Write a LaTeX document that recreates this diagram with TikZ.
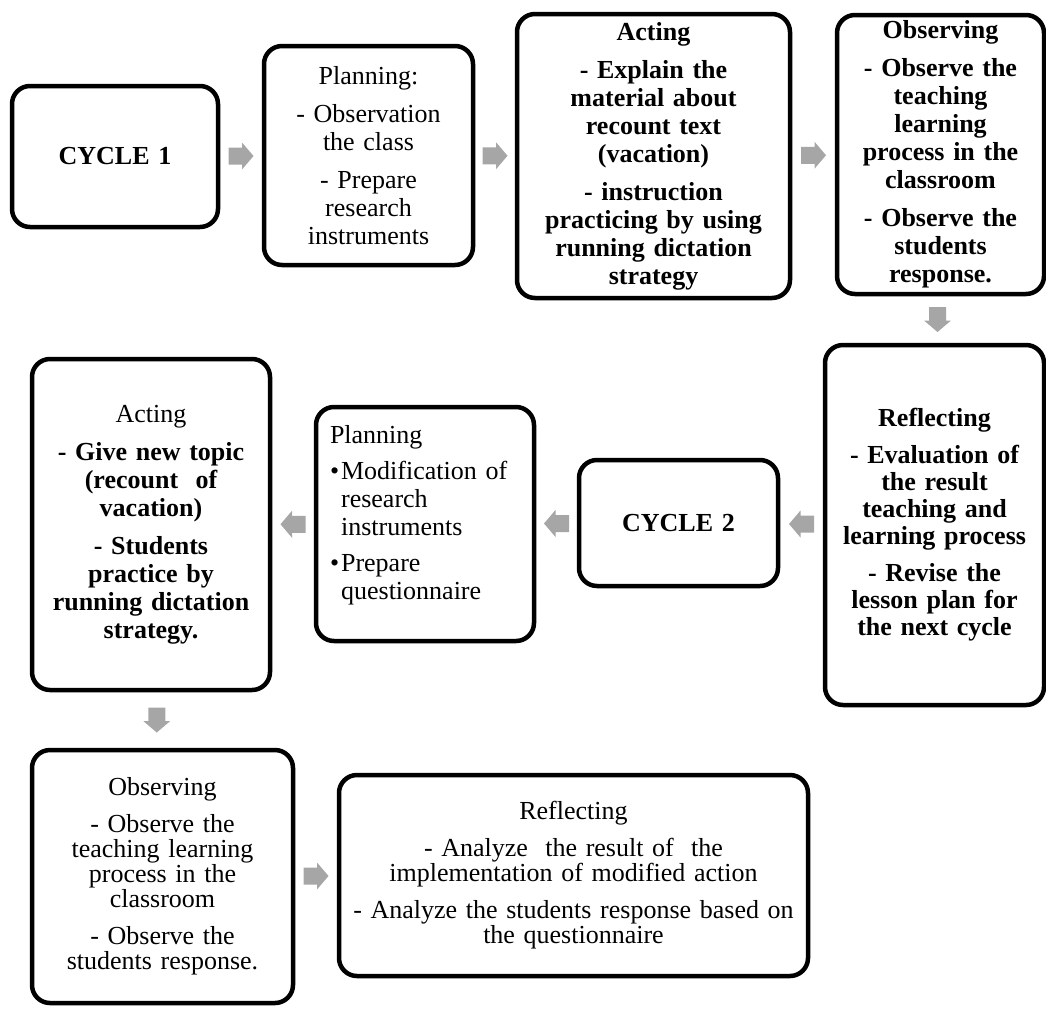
\documentclass[tikz,border=0pt]{standalone}
\usepackage{fontspec}
\setmainfont{Liberation Serif}
\usetikzlibrary{calc}
\definecolor{framec}{HTML}{000000}
\definecolor{arrowc}{HTML}{A6A6A6}
\tikzset{
  stage/.style={draw=framec, line width=4.5pt, rounded corners=18pt, fill=white, inner sep=0pt, align=center, font=\fontsize{26}{28}\selectfont},
  bstage/.style={stage, font=\fontsize{26}{28}\selectfont\bfseries},
  blockarr/.pic={\fill[arrowc] (-12.5,-8.5) -- (1,-8.5) -- (1,-13.5) -- (12.5,0) -- (1,13.5) -- (1,8.5) -- (-12.5,8.5) -- cycle;},
}

\begin{document}
\begin{tikzpicture}[x=1pt, y=-1pt]
\useasboundingbox (0,0) rectangle (1046,1010);
% first cycle
\node[bstage, text width=206pt, minimum height=141pt] (cyc1) at (115,156.5) {CYCLE 1};
\node[stage, text width=209pt, minimum height=219pt] (plan1) at (368.5,155.5) {Planning:\\[10pt] - Observation\\the class\\[10pt] - Prepare\\research\\instruments};
\node[bstage, text width=273pt, minimum height=284pt] (act1) at (653.5,156) {Acting\\[10pt] - Explain the\\material about\\recount text\\(vacation)\\[10pt] - instruction\\practicing by using\\running dictation\\strategy};
\node[bstage, text width=207pt, minimum height=279pt] (obs1) at (940.5,154.5) {Observing\\[10pt] - Observe the\\teaching\\learning\\process in the\\classroom\\[10pt] - Observe the\\students\\response.};
\node[bstage, text width=219pt, minimum height=360pt, font=\fontsize{26}{27}\selectfont\bfseries] (refl1) at (934.5,525) {Reflecting\\[10pt] - Evaluation of\\the result\\teaching and\\learning process\\[10pt] - Revise the\\lesson plan for\\the next cycle};
% second cycle
\node[bstage, text width=199pt, minimum height=126pt] (cyc2) at (678.5,523) {CYCLE 2};
\node[stage, align=left, inner xsep=14pt, text width=190pt, minimum height=234pt] (plan2) at (425,524) {Planning\\[8pt]\textbullet\hspace{2pt}Modification of\\\hphantom{\textbullet}\hspace{2pt}research\\\hphantom{\textbullet}\hspace{2pt}instruments\\[8pt]\textbullet\hspace{2pt}Prepare\\\hphantom{\textbullet}\hspace{2pt}questionnaire\\[-4pt]\mbox{}};
\node[stage, text width=238pt, minimum height=331pt] (act2) at (151,524.5) {Acting\\[10pt]\bfseries - Give new topic\\(recount~ of\\vacation)\\[10pt] - Students\\practice by\\running dictation\\strategy.};
\node[stage, text width=261pt, minimum height=253pt, font=\fontsize{26}{25}\selectfont] (obs2) at (162.5,876.5) {Observing\\[12pt] - Observe the\\teaching learning\\process in the\\classroom\\[12pt] - Observe the\\students response.};
\node[stage, text width=469pt, minimum height=201pt, font=\fontsize{26}{25}\selectfont] (refl2) at (573.5,875.5) {Reflecting\\[12pt] - Analyze~ the result of~ the\\implementation of modified action\\[12pt] - Analyze the students response based on\\the questionnaire};
% arrows
\pic at ($(cyc1.east)!0.5!(plan1.west)$) {blockarr};
\pic at ($(plan1.east)!0.5!(act1.west)$) {blockarr};
\pic at ($(act1.east)!0.5!(obs1.west)$) {blockarr};
\pic[rotate=-90] at ($(obs1.south)!0.5!(refl1.north)$) {blockarr};
\pic[rotate=180] at ($(refl1.west)!0.5!(cyc2.east)$) {blockarr};
\pic[rotate=180] at ($(cyc2.west)!0.5!(plan2.east)$) {blockarr};
\pic[rotate=180] at ($(plan2.west)!0.5!(act2.east)$) {blockarr};
\pic[rotate=-90] at ($(act2.south)!0.5!(obs2.north)$) {blockarr};
\pic at ($(obs2.east)!0.5!(refl2.west)$) {blockarr};
\end{tikzpicture}
\end{document}
